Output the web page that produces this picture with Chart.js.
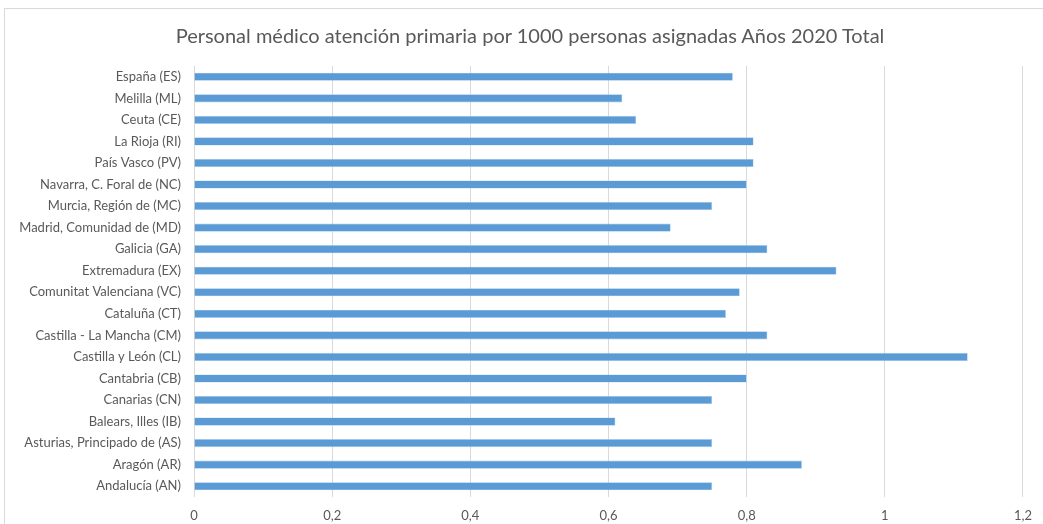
<!DOCTYPE html>
<html>
<head>
<meta charset="utf-8">
<script src="https://cdn.jsdelivr.net/npm/chart.js@4/dist/chart.umd.min.js"></script>
<style>
    html, body { margin: 0; padding: 0; background: #fff; overflow: hidden; }
    #wrap { position: relative; width: 1043px; height: 524px; }
    #frame {
        position: absolute; left: 4px; top: 8px; width: 1050px; height: 530px;
        border: 1px solid #d9d9d9; box-sizing: border-box;
    }
    #title {
        position: absolute; left: 0; top: 22px; width: 1060px;
        text-align: center; white-space: nowrap;
        font: 20px/26px Lato, "Open Sans", sans-serif; color: #595959;
    }
    #chart { position: absolute; left: 0; top: 0; }
</style>
</head>
<body>
<div id="wrap">
    <div id="frame"></div>
    <canvas id="chart" width="1043" height="524"></canvas>
    <div id="title">Personal médico atención primaria por 1000 personas asignadas Años 2020 Total</div>
</div>
<script>
// Comunidades, top row first
const regions = [
    'España (ES)', 'Melilla (ML)', 'Ceuta (CE)', 'La Rioja (RI)', 'País Vasco (PV)',
    'Navarra, C. Foral de (NC)', 'Murcia, Región de (MC)', 'Madrid, Comunidad de (MD)',
    'Galicia (GA)', 'Extremadura (EX)', 'Comunitat Valenciana (VC)', 'Cataluña (CT)',
    'Castilla - La Mancha (CM)', 'Castilla y León (CL)', 'Cantabria (CB)', 'Canarias (CN)',
    'Balears, Illes (IB)', 'Asturias, Principado de (AS)', 'Aragón (AR)', 'Andalucía (AN)'
];
const medicos = [
    0.78, 0.62, 0.64, 0.81, 0.81,
    0.80, 0.75, 0.69,
    0.83, 0.93, 0.79, 0.77,
    0.83, 1.12, 0.80, 0.75,
    0.61, 0.75, 0.88, 0.75
];
const xTicks = [0, 0.2, 0.4, 0.6, 0.8, 1, 1.2];

const FONT = 'Lato, "Open Sans", sans-serif';
const GREY = '#595959';

new Chart(document.getElementById('chart'), {
    type: 'bar',
    data: {
        labels: regions,
        datasets: [{
            data: medicos,
            backgroundColor: '#5b9bd5',
            borderColor: '#a9c8ea',
            borderWidth: 0.6,
            categoryPercentage: 1,
            barPercentage: 0.38
        }]
    },
    options: {
        indexAxis: 'y',
        responsive: false,
        animation: false,
        // title is an html div above the canvas, so leave room for it here
        layout: { padding: { left: 0, right: 17, top: 66, bottom: 0 } },
        plugins: {
            legend: { display: false },
            tooltip: { enabled: false },
            title: { display: false }
        },
        scales: {
            x: {
                min: 0,
                max: 1.2,
                afterBuildTicks: (scale) => {
                    scale.ticks = xTicks.map(v => ({ value: v }));
                },
                afterFit: (scale) => { scale.height = 27; },
                grid: { color: '#d9d9d9', drawTicks: false },
                border: { display: false },
                ticks: {
                    color: GREY,
                    padding: 11,
                    font: { family: FONT, size: 13 },
                    callback: (v) => String(v).replace('.', ',')
                }
            },
            y: {
                grid: { display: false },
                border: { display: false },
                afterFit: (scale) => { scale.width = 194; },
                ticks: {
                    color: GREY,
                    padding: 5,
                    autoSkip: false,
                    font: { family: FONT, size: 13 }
                }
            }
        }
    }
});
</script>
</body>
</html>
